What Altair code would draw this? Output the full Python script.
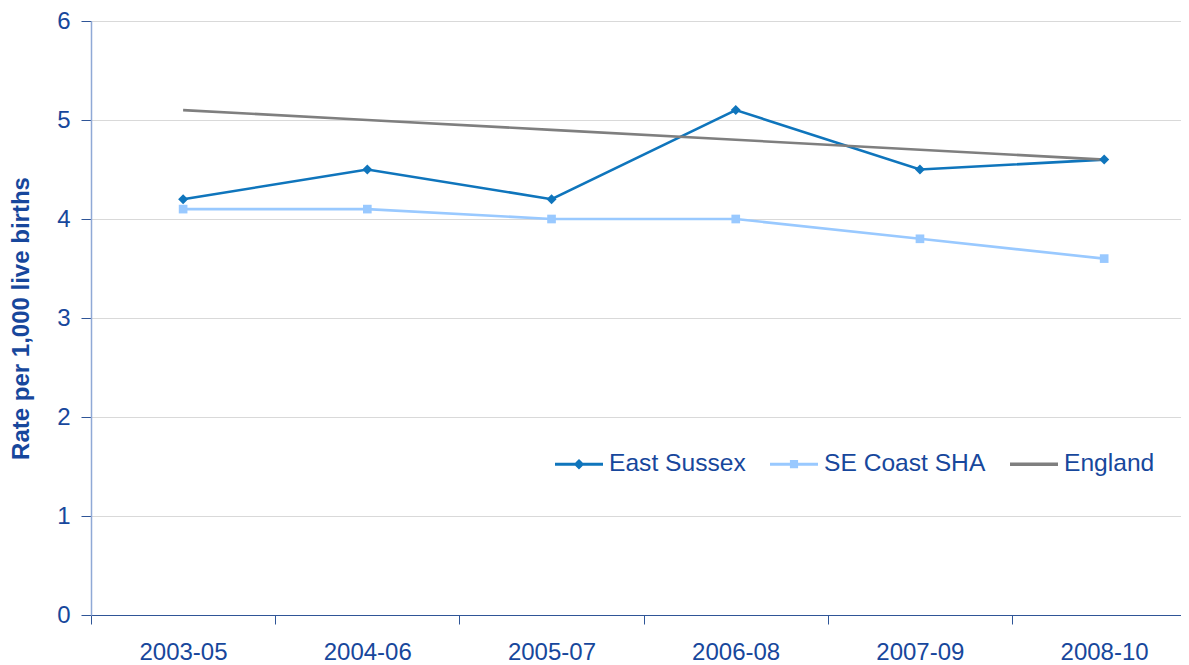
import json

import altair as alt
import pandas as pd

periods = ["2003-05", "2004-06", "2005-07", "2006-08", "2007-09", "2008-10"]
series = ["East Sussex", "SE Coast SHA", "England"]
east_sussex = [4.2, 4.5, 4.2, 5.1, 4.5, 4.6]
se_coast = [4.1, 4.1, 4.0, 4.0, 3.8, 3.6]
england = [5.1, 5.0, 4.9, 4.8, 4.7, 4.6]

colors = ["#0F75BC", "#99C9FF", "#7F7F7F"]
text_blue = "#17479C"
font = "Liberation Sans"

rows = []
for name, vals in zip(series, [east_sussex, se_coast, england]):
    for i, (p, v) in enumerate(zip(periods, vals)):
        rows.append({"idx": i, "period": p, "series": name, "rate": v})
df = pd.DataFrame(rows)

# category boundaries carry the ticks, labels are shifted into the middle
boundaries = [i - 0.5 for i in range(len(periods))]
label_expr = json.dumps(periods) + "[datum.value + 0.5]"

# legend symbols: a short line with the series marker on it
legend_shapes = [
    "M-1,-0.065H1V0.065H-1Z M0,-0.22L0.22,0L0,0.22L-0.22,0Z",
    "M-1,-0.065H1V0.065H-1Z M-0.17,-0.17H0.17V0.17H-0.17Z",
    "M-1,-0.07H1V0.07H-1Z",
]

legend = alt.Legend(
    title=None,
    orient="none",
    direction="horizontal",
    legendX=464,
    legendY=419,
    labelFont=font,
    labelFontSize=24.6,
    labelColor=text_blue,
    labelOffset=6,
    labelLimit=400,
    columnPadding=24,
    symbolSize=2304,
    symbolStrokeWidth=0,
    symbolOpacity=1,
    padding=0,
)

x = alt.X(
    "idx:Q",
    scale=alt.Scale(domain=[-0.5, 5.417], nice=False, zero=False),
    axis=alt.Axis(
        title=None,
        values=boundaries,
        labelExpr=label_expr,
        labelOffset=92,
        labelFlush=False,
        labelOverlap=False,
        labelAngle=0,
        labelFont=font,
        labelFontSize=24,
        labelColor=text_blue,
        labelPadding=16,
        tickSize=9,
        tickColor="#2F5597",
        domainColor="#2F5597",
        grid=False,
    ),
)
y = alt.Y(
    "rate:Q",
    scale=alt.Scale(domain=[0, 6], nice=False),
    axis=alt.Axis(
        title="Rate per 1,000 live births",
        titleFont=font,
        titleFontSize=24,
        titleFontWeight="bold",
        titleColor=text_blue,
        titlePadding=23,
        values=[0, 1, 2, 3, 4, 5, 6],
        labelFont=font,
        labelFontSize=24,
        labelColor=text_blue,
        labelPadding=11,
        tickSize=10,
        tickColor="#2F5597",
        domainColor="#8FA9D6",
        domainWidth=1.5,
        gridColor="#D9D9D9",
    ),
)
color = alt.Color(
    "series:N",
    scale=alt.Scale(domain=series, range=colors),
    legend=legend,
)

base = alt.Chart(df).encode(x=x, y=y, color=color)

lines = base.mark_line(strokeWidth=2.6)

es_points = base.transform_filter(alt.datum.series == "East Sussex").mark_point(
    shape="diamond", filled=True, size=100, opacity=1
)
se_points = base.transform_filter(alt.datum.series == "SE Coast SHA").mark_point(
    shape="square", filled=True, size=75, opacity=1
)

legend_layer = (
    alt.Chart(df)
    .transform_filter("false")
    .mark_point(filled=True, size=2304, opacity=1)
    .encode(
        x=x,
        y=y,
        color=color,
        shape=alt.Shape(
            "series:N",
            scale=alt.Scale(domain=series, range=legend_shapes),
            legend=legend,
        ),
    )
)

chart = (
    alt.layer(lines, es_points, se_points, legend_layer)
    .properties(
        width=1090,
        height=594,
        autosize=alt.AutoSizeParams(type="none"),
        padding={"left": 83, "top": 13, "right": 0, "bottom": 55},
    )
    .configure_view(stroke=None)
    .configure(background="white")
)

chart.save("out.html", embed_options={"renderer": "svg", "actions": False})
